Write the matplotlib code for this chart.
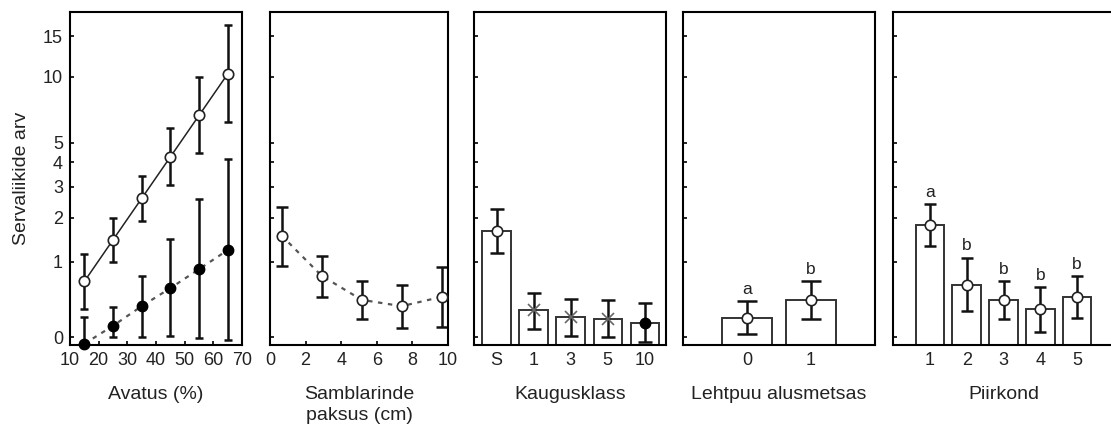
import numpy as np
import matplotlib.pyplot as plt

plt.rcParams['font.family'] = ['Liberation Sans', 'DejaVu Sans']
plt.rcParams['font.size'] = 13

# Panel 1: Avatus (%) - two series (open / filled)
avatus = [15, 25, 35, 45, 55, 65]
open_mean = [0.67, 1.45, 2.59, 4.26, 6.71, 10.3]
open_lo = [0.29, 0.99, 1.92, 3.06, 4.47, 6.27]
open_hi = [1.15, 2.0, 3.41, 5.87, 9.94, 16.7]
fill_mean = [-0.06, 0.11, 0.33, 0.57, 0.87, 1.23]
fill_lo = [-0.1, 0.0, 0.0, 0.01, -0.01, -0.03]
fill_hi = [0.2, 0.32, 0.75, 1.47, 2.57, 4.14]

# Panel 2: Samblarinde paksus (cm)
sambla_x = [0.65, 2.9, 5.15, 7.4, 9.65]
sambla_mean = [1.55, 0.76, 0.41, 0.33, 0.45]
sambla_lo = [0.93, 0.45, 0.18, 0.09, 0.10]
sambla_hi = [2.32, 1.11, 0.68, 0.61, 0.90]

# Panel 3: Kaugusklass
kaugus = ['S', '1', '3', '5', '10']
kaugus_mean = [1.66, 0.28, 0.20, 0.18, 0.14]
kaugus_lo = [1.17, 0.08, 0.015, 0.0, -0.04]
kaugus_hi = [2.25, 0.50, 0.42, 0.41, 0.37]

# Panel 4: Lehtpuu alusmetsas
lehtpuu = ['0', '1']
lehtpuu_mean = [0.19, 0.41]
lehtpuu_lo = [0.03, 0.18]
lehtpuu_hi = [0.39, 0.68]
lehtpuu_letters = ['a', 'b']

# Panel 5: Piirkond
piirkond = ['1', '2', '3', '4', '5']
piirkond_mean = [1.80, 0.62, 0.41, 0.29, 0.45]
piirkond_lo = [1.32, 0.27, 0.18, 0.05, 0.19]
piirkond_hi = [2.41, 1.08, 0.68, 0.58, 0.76]
piirkond_letters = ['a', 'b', 'b', 'b', 'b']

y_ticks = [0, 1, 2, 3, 4, 5, 10, 15]
y_min, y_max = -0.07, 19
LABEL_FS = 14
TXT = '#222222'


def fwd(y):
    return np.log10(np.asarray(y) + 1)


def inv(y):
    return 10 ** np.asarray(y) - 1


def err(mean, lo, hi):
    mean = np.array(mean)
    return [mean - np.array(lo), np.array(hi) - mean]


fig = plt.figure(figsize=(11.11, 4.34), dpi=100)
W, H = 1111, 434
boxes = [(70, 242), (270, 448), (474, 666), (683, 875), (893, 1114)]
axes = []
for l, r in boxes:
    ax = fig.add_axes([l / W, 1 - 345 / H, (r - l) / W, 333 / H])
    ax.set_yscale('function', functions=(fwd, inv))
    ax.set_ylim(y_min, y_max)
    ax.set_yticks(y_ticks)
    ax.tick_params(direction='in', length=3, width=1.2, pad=5, labelsize=13,
                   labelcolor=TXT)
    for s in ax.spines.values():
        s.set_linewidth(1.5)
    axes.append(ax)

ebkw = dict(fmt='none', ecolor='#111111', elinewidth=1.8, capthick=1.8)
mk_open = dict(marker='o', ms=7.5, mfc='white', mec='#222222', mew=1.2, ls='none')

# Panel 1
ax = axes[0]
ax.plot(avatus, open_mean, color='#222222', lw=1.1)
ax.plot(avatus, fill_mean, color='#555555', lw=1.6, ls=(0, (2, 2.5)))
ax.errorbar(avatus, open_mean, yerr=err(open_mean, open_lo, open_hi), capsize=3, **ebkw)
ax.errorbar(avatus, fill_mean, yerr=err(fill_mean, fill_lo, fill_hi), capsize=3, **ebkw)
ax.plot(avatus, open_mean, zorder=5, **mk_open)
ax.plot(avatus, fill_mean, marker='o', ms=7.5, color='black', ls='none', zorder=5, clip_on=False)
ax.set_xlim(10, 70)
ax.set_xticks(range(10, 71, 10))
ax.set_ylabel('Servaliikide arv', fontsize=LABEL_FS, labelpad=9, color=TXT)
ax.set_xlabel('Avatus (%)', fontsize=LABEL_FS, labelpad=12, color=TXT)

# Panel 2
ax = axes[1]
ax.plot(sambla_x, sambla_mean, color='#555555', lw=1.6, ls=(0, (2, 2.5)))
ax.errorbar(sambla_x, sambla_mean, yerr=err(sambla_mean, sambla_lo, sambla_hi), capsize=4, **ebkw)
ax.plot(sambla_x, sambla_mean, zorder=5, **mk_open)
ax.set_xlim(0, 10)
ax.set_xticks(range(0, 11, 2))
ax.set_xlabel('Samblarinde\npaksus (cm)', fontsize=LABEL_FS, labelpad=12,
              color=TXT, linespacing=1.35)


def bar_panel(ax, cats, mean, lo, hi, capsize, letters=None):
    x = np.arange(len(cats))
    mean = np.array(mean)
    ax.bar(x, mean - y_min, bottom=y_min, width=0.77, color='white',
           edgecolor='#333333', linewidth=1.4, zorder=2)
    ax.errorbar(x, mean, yerr=err(mean, lo, hi), capsize=capsize, zorder=4, **ebkw)
    ax.set_xticks(x)
    ax.set_xticklabels(cats)
    if letters:
        for xi, h, t in zip(x, hi, letters):
            ax.annotate(t, (xi, h), xytext=(0, 3), textcoords='offset points',
                        ha='center', va='bottom', fontsize=12.5, color=TXT)
    return x


ax = axes[2]
x = bar_panel(ax, kaugus, kaugus_mean, kaugus_lo, kaugus_hi, 5)
ax.plot(x[:1], kaugus_mean[:1], zorder=5, **mk_open)
ax.plot(x[1:4], kaugus_mean[1:4], marker='x', ms=9, mew=1.2, color='#666666', ls='none', zorder=5)
ax.plot(x[4:], kaugus_mean[4:], marker='o', ms=7.5, color='black', ls='none', zorder=5)
ax.set_xlim(-0.61, 4.57)
ax.set_xlabel('Kaugusklass', fontsize=LABEL_FS, labelpad=12, color=TXT)

ax = axes[3]
x = bar_panel(ax, lehtpuu, lehtpuu_mean, lehtpuu_lo, lehtpuu_hi, 7, lehtpuu_letters)
ax.plot(x, lehtpuu_mean, zorder=5, **mk_open)
ax.set_xlim(-1, 2)
ax.set_xlabel('Lehtpuu alusmetsas', fontsize=LABEL_FS, labelpad=12, color=TXT)

ax = axes[4]
x = bar_panel(ax, piirkond, piirkond_mean, piirkond_lo, piirkond_hi, 4, piirkond_letters)
ax.plot(x, piirkond_mean, zorder=5, **mk_open)
ax.set_xlim(-1, 5)
ax.set_xlabel('Piirkond', fontsize=LABEL_FS, labelpad=12, color=TXT)

for ax in axes[1:]:
    ax.set_yticklabels([])

fig.savefig('out.png', dpi=100)
